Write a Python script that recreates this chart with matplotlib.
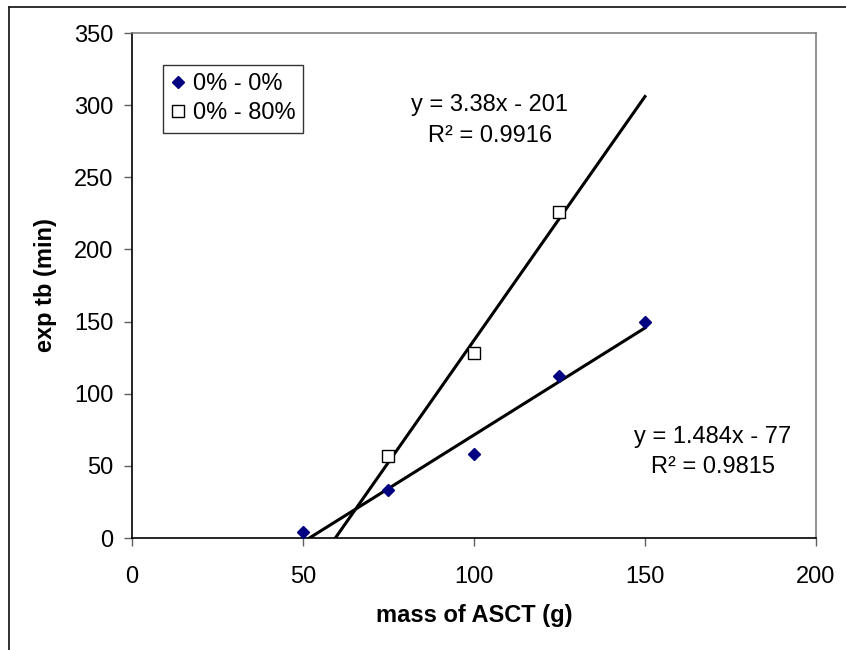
import numpy as np
import matplotlib
matplotlib.use('Agg')
import matplotlib.pyplot as plt
from matplotlib.lines import Line2D

plt.rcParams['font.family'] = ['Liberation Sans', 'DejaVu Sans']

# data
mass_a = [50, 75, 100, 125, 150]
tb_a = [4, 33, 58, 112, 150]
mass_b = [75, 100, 125]
tb_b = [57, 128, 226]
labels = ['0% - 0%', '0% - 80%']

fig = plt.figure(figsize=(8.46, 6.5), dpi=100)
ax = fig.add_axes([0.156, 0.1723, 0.8085, 0.7769])

ax.plot(mass_a, tb_a, linestyle='none', marker='D', ms=6.2, color='#000080',
        label=labels[0], zorder=3)
ax.plot(mass_b, tb_b, linestyle='none', marker='s', ms=8, mfc='white',
        mec='black', mew=1.0, label=labels[1], zorder=3)


def fit(x, y):
    x = np.array(x, float)
    y = np.array(y, float)
    m, b = np.polyfit(x, y, 1)
    pred = m * x + b
    r2 = 1 - np.sum((y - pred) ** 2) / np.sum((y - y.mean()) ** 2)
    return m, b, r2


xx = np.array([50, 150])
ma, ba, ra = fit(mass_a, tb_a)
mb, bb, rb = fit(mass_b, tb_b)
ax.plot(xx, ma * xx + ba, color='black', lw=2.2, zorder=2)
ax.plot(xx, mb * xx + bb, color='black', lw=2.2, zorder=2)


def eq(m, b):
    sign = '-' if b < 0 else '+'
    return 'y = %sx %s %s' % ('%.4g' % m, sign, '%.3g' % abs(b))


fs = 17
ax.text(0.523, 0.857, eq(mb, bb), transform=ax.transAxes, ha='center',
        va='center', fontsize=fs)
ax.text(0.523, 0.797, 'R\u00b2 = %.4f' % rb, transform=ax.transAxes,
        ha='center', va='center', fontsize=fs)
ax.text(0.849, 0.2, eq(ma, ba), transform=ax.transAxes, ha='center',
        va='center', fontsize=fs)
ax.text(0.849, 0.14, 'R\u00b2 = %.4f' % ra, transform=ax.transAxes,
        ha='center', va='center', fontsize=fs)

ax.set_xlim(0, 200)
ax.set_ylim(0, 350)
ax.set_xticks(range(0, 201, 50))
ax.set_yticks(range(0, 351, 50))
ax.tick_params(direction='out', length=5.5, width=1, labelsize=fs,
               color='#606060')
ax.tick_params(axis='x', pad=15)
ax.tick_params(axis='y', pad=8)
ax.set_xlabel('mass of ASCT (g)', fontsize=fs, fontweight='bold', labelpad=11)
ax.set_ylabel('exp tb (min)', fontsize=fs, fontweight='bold', labelpad=12)

for s in ['top', 'right']:
    ax.spines[s].set_color('#808080')
    ax.spines[s].set_linewidth(1.2)
for s in ['left', 'bottom']:
    ax.spines[s].set_color('black')
    ax.spines[s].set_linewidth(1.2)

leg = ax.legend(loc='upper left', bbox_to_anchor=(163 / 846, 1 - 65 / 650),
                bbox_transform=fig.transFigure, fontsize=fs, frameon=True,
                fancybox=False, handlelength=0.6, handletextpad=0.3,
                borderpad=0.35, labelspacing=0.3, borderaxespad=0)
leg.get_frame().set_edgecolor('black')
leg.get_frame().set_linewidth(1.0)

# outer chart frame (cut off at right and bottom)
fig.add_artist(Line2D([9 / 846, 1], [1 - 7 / 650, 1 - 7 / 650],
                      transform=fig.transFigure, color='#202020', lw=1.3))
fig.add_artist(Line2D([9 / 846, 9 / 846], [1 - 7 / 650, 0],
                      transform=fig.transFigure, color='#202020', lw=1.3))

fig.savefig('out.png', dpi=100)
